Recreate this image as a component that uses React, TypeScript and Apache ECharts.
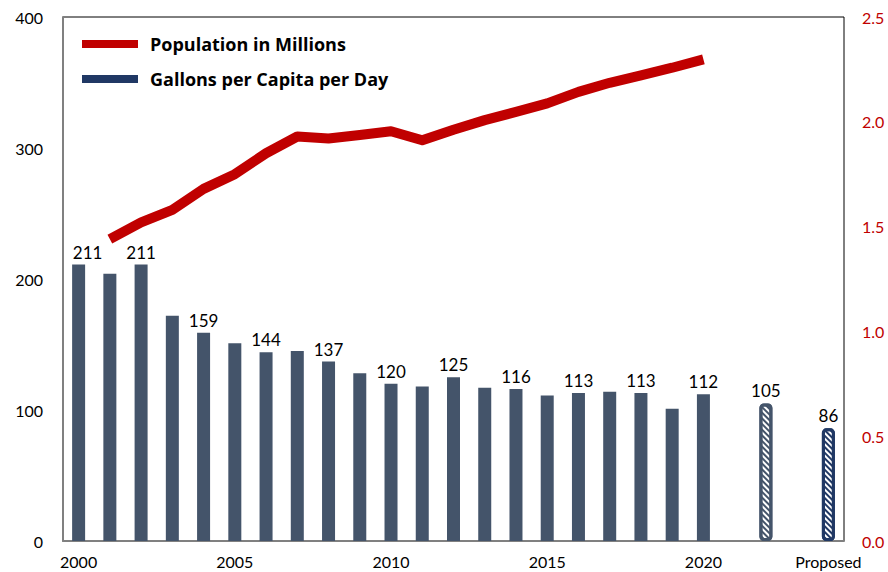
import React, { useEffect, useRef } from "react";
import * as echarts from "echarts";

const years = [
  "2000", "2001", "2002", "2003", "2004", "2005", "2006", "2007", "2008", "2009",
  "2010", "2011", "2012", "2013", "2014", "2015", "2016", "2017", "2018", "2019",
  "2020", "2021", "2022", "2023", "Proposed",
];
const gallonsPerCapita: (number | null)[] = [
  211, 204, 211, 172, 159, 151, 144, 145, 137, 128,
  120, 118, 125, 117, 116, 111, 113, 114, 113, 101,
  112, null, 105, null, 86,
];
const populationMillions: (number | null)[] = [
  null, 1.44, 1.52, 1.58, 1.68, 1.75, 1.85, 1.93, 1.92, 1.937,
  1.955, 1.912, 1.962, 2.008, 2.047, 2.088, 2.143, 2.186, 2.222, 2.258,
  2.298, null, null, null, null,
];
const labelledBars = [0, 2, 4, 6, 8, 10, 12, 14, 16, 18, 20, 22, 24];
const hatchedBars: Record<number, string> = { 22: "#44546A", 24: "#203864" };
const shownTicks = [0, 5, 10, 15, 20, 24];
const leftTicks = { min: 0, max: 400, interval: 100 };
const rightTicks = { min: 0, max: 2.5, interval: 0.5 };

const FONT = "Lato, 'Open Sans', sans-serif";

export default function App() {
  const ref = useRef<HTMLDivElement>(null);
  useEffect(() => {
    if (!ref.current) return;
    const chart = echarts.init(ref.current, undefined, { renderer: "svg" });
    const labelFor = (i: number, v: number | null) => ({
      show: labelledBars.includes(i) && v != null,
      offset: i === 0 ? [9, 0] : [0, 0],
    });
    const solidData = gallonsPerCapita.map((v, i) =>
      hatchedBars[i] ? { value: null } : { value: v, label: labelFor(i, v) }
    );
    const hatchedData = gallonsPerCapita.map((v, i) =>
      hatchedBars[i]
        ? {
            value: v,
            label: labelFor(i, v),
            itemStyle: {
              color: "#ffffff",
              borderColor: hatchedBars[i],
              borderWidth: 3,
              borderRadius: 3,
              decal: {
                symbol: "rect",
                symbolSize: 1,
                color: hatchedBars[i],
                dashArrayX: [1, 0],
                dashArrayY: [2, 2],
                rotation: Math.PI / 4,
              },
            },
          }
        : { value: null }
    );
    const barLabel = {
      position: "top",
      distance: 4,
      color: "#000",
      fontSize: 17,
      fontFamily: FONT,
    };
    chart.setOption({
      animation: false,
      textStyle: { fontFamily: FONT },
      grid: {
        left: 63,
        right: 44,
        top: 17,
        bottom: 31,
        show: true,
        borderColor: "#000",
        borderWidth: 1,
        containLabel: false,
      },
      legend: {
        orient: "vertical",
        left: 77,
        top: 30,
        itemWidth: 56,
        itemHeight: 8,
        itemGap: 17,
        icon: "rect",
        textStyle: {
          fontFamily: "'Open Sans', Lato, sans-serif",
          fontWeight: "bold",
          fontSize: 18,
          color: "#000",
          padding: [0, 0, 0, 7],
        },
        data: [
          {
            name: "Population in Millions",
            itemStyle: { color: "#C00000", borderWidth: 0 },
          },
          {
            name: "Gallons per Capita per Day",
            itemStyle: { color: "#203864", borderWidth: 0, borderColor: "#203864" },
          },
        ],
      },
      xAxis: {
        type: "category",
        data: years,
        boundaryGap: true,
        axisLine: { show: true, lineStyle: { color: "#808080", width: 2 } },
        axisTick: { show: false },
        axisLabel: {
          interval: (idx: number) => shownTicks.includes(idx),
          color: "#000",
          fontSize: 16,
          margin: 12,
          fontFamily: FONT,
        },
        splitLine: { show: false },
      },
      yAxis: [
        {
          type: "value",
          ...leftTicks,
          position: "left",
          axisLine: { show: true, lineStyle: { color: "#808080", width: 2 } },
          axisTick: { show: false },
          splitLine: { show: false },
          axisLabel: { color: "#000", fontSize: 16, margin: 20, fontFamily: FONT },
        },
        {
          type: "value",
          ...rightTicks,
          position: "right",
          axisLine: { show: false },
          axisTick: { show: false },
          splitLine: { show: false },
          axisLabel: {
            color: "#C00000",
            fontSize: 16,
            margin: 18,
            fontFamily: FONT,
            formatter: (v: number) => v.toFixed(1),
          },
        },
      ],
      series: [
        {
          name: "Gallons per Capita per Day",
          type: "bar",
          yAxisIndex: 0,
          barWidth: 13,
          barGap: "-100%",
          itemStyle: { color: "#44546A" },
          label: barLabel,
          data: solidData,
          z: 2,
        },
        {
          name: "Projected",
          type: "bar",
          yAxisIndex: 0,
          barWidth: 13,
          barGap: "-100%",
          label: barLabel,
          data: hatchedData,
          z: 2,
        },
        {
          name: "Population in Millions",
          type: "line",
          yAxisIndex: 1,
          data: populationMillions,
          showSymbol: false,
          symbol: "none",
          connectNulls: false,
          lineStyle: { color: "#C00000", width: 10, cap: "butt", join: "round" },
          itemStyle: { color: "#C00000" },
          z: 3,
        },
      ],
    });
    return () => chart.dispose();
  }, []);
  return <div ref={ref} style={{ width: 888, height: 572, position: "absolute", left: 0, top: 0 }} />;
}
